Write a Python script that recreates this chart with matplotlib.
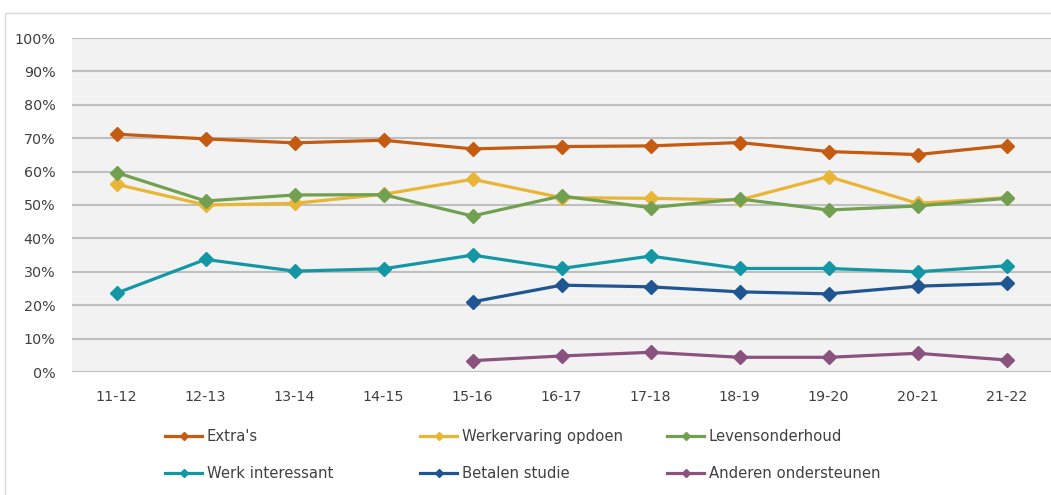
import matplotlib.pyplot as plt
from matplotlib.patches import Rectangle
from matplotlib.ticker import PercentFormatter

years = ["11-12", "12-13", "13-14", "14-15", "15-16", "16-17",
         "17-18", "18-19", "19-20", "20-21", "21-22"]

extras = [71.2, 69.8, 68.6, 69.4, 66.8, 67.5, 67.7, 68.7, 66.0, 65.1, 67.8]
werkervaring = [56.2, 50.0, 50.5, 53.2, 57.7, 52.2, 52.0, 51.5, 58.5, 50.5, 52.2]
levensonderhoud = [59.7, 51.2, 53.0, 53.1, 46.7, 52.7, 49.2, 51.8, 48.5, 49.7, 52.0]
werk_interessant = [23.6, 33.7, 30.2, 30.9, 35.0, 31.0, 34.7, 31.0, 31.0, 30.0, 31.8]
# these two start in 15-16
betalen_studie = [21.0, 26.0, 25.5, 24.0, 23.4, 25.7, 26.5]
anderen = [3.4, 4.8, 5.9, 4.4, 4.4, 5.6, 3.6]

series = [
    ("Extra's", years, extras, "#C55A11"),
    ("Werkervaring opdoen", years, werkervaring, "#E8B634"),
    ("Levensonderhoud", years, levensonderhoud, "#70A050"),
    ("Werk interessant", years, werk_interessant, "#1497A5"),
    ("Betalen studie", years[4:], betalen_studie, "#1F5591"),
    ("Anderen ondersteunen", years[4:], anderen, "#8A527F"),
]

plt.rcParams['font.family'] = ['DejaVu Sans']
text_col = "#404040"

fig = plt.figure(figsize=(10.51, 4.95), dpi=100)
ax = fig.add_axes([72 / 1051, 1 - 372 / 495, 1 - 72 / 1051, 334 / 495])
ax.set_facecolor("#F2F2F2")

xpos = {y: i for i, y in enumerate(years)}
lines = {}
for name, xs, vals, col in series:
    ln, = ax.plot([xpos[x] for x in xs], vals, color=col, lw=2.3,
                  marker="D", markersize=7, label=name, zorder=3)
    lines[name] = ln

ax.set_xlim(-0.5, len(years) - 0.5)
ax.set_ylim(0, 100)
ax.set_yticks(range(0, 101, 10))
ax.yaxis.set_major_formatter(PercentFormatter(decimals=0))
ax.set_xticks(range(len(years)))
ax.set_xticklabels(years)
ax.tick_params(length=0, labelsize=10.3, colors=text_col)
ax.tick_params(axis="x", pad=13)
ax.tick_params(axis="y", pad=12)
ax.grid(axis="y", color="#BFBFBF", lw=1.5, zorder=1)
for s in ax.spines.values():
    s.set_visible(False)

# outer chart border
fig.patches.append(Rectangle((5 / 1051, -0.1), 1.2, 1 - 13 / 495 + 0.1,
                             transform=fig.transFigure, fill=False,
                             edgecolor="#D9D9D9", lw=1))

cols = [("Extra's", "Werk interessant"),
        ("Werkervaring opdoen", "Betalen studie"),
        ("Levensonderhoud", "Anderen ondersteunen")]
for i, (a, b) in enumerate(cols):
    x0 = [160, 415, 662][i] / 1051
    fig.legend([lines[a], lines[b]], [a, b], loc="upper left",
               bbox_to_anchor=(x0 - 0.008, 1 - 416 / 495), frameon=False,
               fontsize=10.7, handlelength=2.5, handletextpad=0.3,
               labelspacing=1.45, markerscale=0.6, labelcolor=text_col)

fig.savefig("out.png", dpi=100)
